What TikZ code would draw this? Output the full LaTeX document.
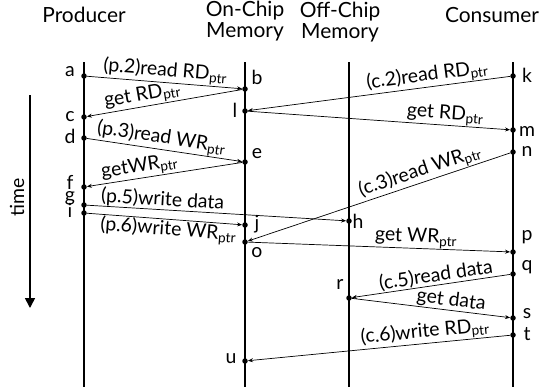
\documentclass[tikz,border=0pt]{standalone}
\usepackage{fontspec}
\setmainfont{Lato}
\usetikzlibrary{arrows.meta}
\begin{document}
\begin{tikzpicture}[x=1bp,y=-1bp,
  life/.style={line width=1.6bp},
  msg/.style={line width=0.7bp,-{Stealth[length=5bp,width=4bp]}},
  lbl/.style={font=\fontsize{19.5}{21}\selectfont, inner sep=0.5bp, sloped},
  hdr/.style={font=\fontsize{21}{21}\selectfont, align=center, inner sep=0pt},
  ptl/.style={font=\fontsize{19.5}{21}\selectfont, inner sep=0pt},
  dot/.style={circle,fill,inner sep=0pt,minimum size=5.5bp}
]
\useasboundingbox (0,0) rectangle (540,391);
% headers
\node[hdr] (hP) at (84,15) {Producer};
\node[hdr] (hO) at (245,21) {On-Chip\\Memory};
\node[hdr] (hF) at (340,22) {Off-Chip\\Memory};
\node[hdr] (hC) at (492,15) {Consumer};
% lifelines
\coordinate (P0) at (84,62);  \coordinate (P1) at (84,387);
\coordinate (O0) at (245,62); \coordinate (O1) at (245,387);
\coordinate (F0) at (349,62); \coordinate (F1) at (349,387);
\coordinate (C0) at (513,62); \coordinate (C1) at (513,387);
\draw[life] (P0) -- (P1);
\draw[life] (O0) -- (O1);
\draw[life] (F0) -- (F1);
\draw[life] (C0) -- (C1);
% time arrow
\coordinate (T0) at (30,95); \coordinate (T1) at (30,308);
\draw[line width=1.6bp,-{Triangle[length=10bp,width=10bp]}] (T0) -- (T1);
\node[rotate=90,font=\fontsize{19.5}{21}\selectfont] (time) at (17,197) {time};
% event points
\foreach \n/\x/\y in {a/84/76,c/84/117,d/84/138,f/84/187,g/84/205,i/84/213,
  b/245/89,l/245/111,e/245/162,j/245/225,o/245/242,u/245/361,
  h/349/221,r/349/298,
  k/513/76,m/513/130,n/513/152,p/513/252,q/513/274,s/513/318,t/513/335}{
  \node[dot] (\n) at (\x,\y) {};
}
% point labels
\foreach \n/\x/\y in {a/70/72,c/70/117,d/70/136,f/70/182,g/70/198,i/70/210,
  l/235/110,u/231/359,r/340/284,
  b/257/77,e/257/154,j/257/224,o/257/253,h/358/221,
  k/527/75,m/527/131,n/527/151,p/527/237,q/527/267,s/527/314,t/527/334}{
  \node[ptl] (L\n) at (\x,\y) {\n};
}
% messages
\draw[msg] (a) -- node[lbl,above,pos=0.5] {(p.2)read RD\textsubscript{ptr}} (b);
\draw[msg] (b) -- node[lbl,above,pos=0.63] {get RD\textsubscript{ptr}} (c);
\draw[msg] (k) -- node[lbl,above,pos=0.31] {(c.2)read RD\textsubscript{ptr}} (l);
\draw[msg] (l) -- node[lbl,above,pos=0.75] {get RD\textsubscript{ptr}} (m);
\draw[msg] (d) -- node[lbl,above,pos=0.47] {(p.3)read WR\textsubscript{ptr}} (e);
\draw[msg] (e) -- node[lbl,above,pos=0.65] {getWR\textsubscript{ptr}} (f);
\draw[msg] (n) -- node[lbl,above,pos=0.33] {(c.3)read WR\textsubscript{ptr}} (o);
\draw[msg] (g) -- node[lbl,above,pos=0.29] {(p.5)write data} (h);
\draw[msg] (i) -- node[lbl,below,pos=0.53] {(p.6)write WR\textsubscript{ptr}} (j);
\draw[msg] (o) -- node[lbl,above,pos=0.64] {get WR\textsubscript{ptr}} (p);
\draw[msg] (q) -- node[lbl,above,pos=0.46] {(c.5)read data} (r);
\draw[msg] (r) -- node[lbl,above,pos=0.62] {get data} (s);
\draw[msg] (t) -- node[lbl,above,pos=0.32] {(c.6)write RD\textsubscript{ptr}} (u);
\end{tikzpicture}
\end{document}
